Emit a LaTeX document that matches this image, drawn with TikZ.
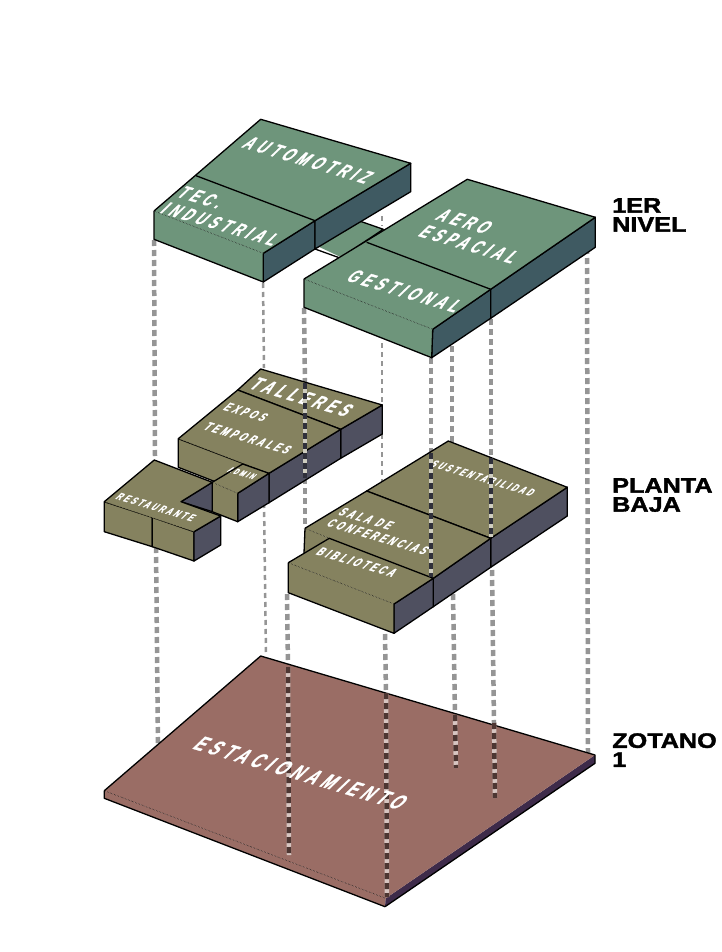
\documentclass[tikz,border=0pt]{standalone}
\usepackage{fontspec}
\setmainfont{Liberation Sans}
\newfontfamily\planfont[LetterSpace=35,BoldFeatures={FakeBold=1.2}]{Liberation Sans}
\newfontfamily\levelfont[BoldFeatures={FakeBold=1.6}]{Liberation Sans}

\definecolor{verde}{HTML}{6E957B}
\definecolor{verdeosc}{HTML}{3F5A62}
\definecolor{oliva}{HTML}{85825F}
\definecolor{olivaosc}{HTML}{4F5060}
\definecolor{rojizo}{HTML}{9A6D65}
\definecolor{rojizoosc}{HTML}{3E2B4A}
\definecolor{guia}{HTML}{959595}

\begin{document}
\begin{tikzpicture}[
    x=1pt,
    y=-1pt,
    line join=round,
    faceedge/.style={
        draw=black,
        line width=1.3pt
    },
    top edge/.style={
        draw=black,
        line width=0.5pt,
        densely dotted
    },
    guide/.style={
        draw=guia,
        line width=4.5pt,
        dash pattern=on 6pt off 4pt
    },
    guide thin/.style={
        draw=guia,
        line width=2.5pt,
        dash pattern=on 5pt off 4pt
    },
    guide over/.style 2 args={
        draw=#1,
        line width=4.5pt,
        dash pattern=on 6pt off 4pt,
        preaction={draw=#2, line width=4.5pt, solid}
    },
    plan label/.style={
        text=white,
        font=\planfont\bfseries\fontsize{#1}{#1}\selectfont,
        xslant=0.8,
        rotate=-13.5,
        inner sep=0pt,
        align=left
    },
    level label/.style={
        text=black,
        font=\levelfont\fontsize{21}{19}\bfseries\selectfont,
        xscale=1.2,
        anchor=north west,
        inner sep=0pt,
        align=left
    }
]

\useasboundingbox[fill=white] (0,0) rectangle (722,952);

% Guias detras de los bloques
\draw[guide] (154,240) -- (155,456);
\draw[guide] (156,547) -- (158,748);
\draw[guide thin] (263,283) -- (264,368);
\draw[guide thin] (264,503) -- (266,655);
\draw[guide] (304,308) -- (305,383);
\draw[guide] (305,478) -- (305,528);
\draw[guide] (287,594) -- (288,667);
\draw[guide thin] (382,216) -- (382,226);
\draw[guide thin] (382,343) -- (382,404);
\draw[guide thin] (382,434) -- (382,482);
\draw[guide] (431,358) -- (431,453);
\draw[guide] (385,634) -- (386,693);
\draw[guide] (452,346) -- (452,453);
\draw[guide] (453,594) -- (455,715);
\draw[guide] (491,319) -- (491,458);
\draw[guide] (492,570) -- (494,723);
\draw[guide] (587,248) -- (588,755);

% Zotano
\fill[rojizo] (104.3,790.7) -- (385.7,898.3) -- (385,906.7) -- (104.3,798.3) -- cycle;
\draw[faceedge] (104.3,790.7) -- (104.3,798.3) -- (385,906.7);
\fill[rojizoosc] (385.7,898.3) -- (595,755) -- (595,763.3) -- (385,906.7) -- cycle;
\fill[rojizo] (260.7,656) -- (595,755) -- (385.7,898.3) -- (104.3,790.7) -- cycle;
\draw[faceedge] (104.3,790.7) -- (260.7,656) -- (595,755) -- (595,763.3) -- (385,906.7);
\draw[top edge] (104.3,790.7) -- (385.7,898.3);

% Planta baja, talleres
\draw[faceedge, fill=olivaosc] (340.7,429.3) -- (382.3,405) -- (382.3,434) -- (340.7,458.3) -- cycle;
\draw[faceedge, fill=olivaosc] (269,473.3) -- (340.7,429.3) -- (340.7,458.3) -- (269,502.7) -- cycle;
\draw[faceedge, fill=oliva] (178.3,438.7) -- (178.3,467.3) -- (269,502.7) -- (269,473.3) -- cycle;
\draw[faceedge, fill=oliva] (260.7,369) -- (382.3,405) -- (340.7,429.3) -- (237.7,390) -- cycle;
\fill[oliva] (237.7,390) -- (340.7,429.3) -- (269,473.3) -- (178.3,438.7) -- cycle;
\draw[faceedge] (178.3,438.7) -- (237.7,390) -- (340.7,429.3) -- (269,473.3);
\draw[top edge] (178.3,438.7) -- (269,473.3);
\node[plan label=16] (talleres) at (302,397) {TALLERES};
\node[plan label=10.5] (expos) at (246,412) {EXPOS};
\node[plan label=10.5] (temporales) at (248,438) {TEMPORALES};

% Admin
\draw[faceedge, fill=olivaosc] (237.7,493.3) -- (269,473.3) -- (269,502.7) -- (237.7,521.7) -- cycle;
\fill[oliva] (212.3,482.3) -- (237.7,493.3) -- (237.7,521.7) -- (212.3,511.7) -- cycle;
\draw[faceedge] (212.3,482.3) -- (212.3,511.7) -- (237.7,521.7) -- (237.7,493.3);
\fill[oliva] (242.7,464) -- (269,473.3) -- (237.7,493.3) -- (212.3,482.3) -- cycle;
\node[plan label=7] (admin) at (242,473) {ADMIN};
\draw[faceedge] (212.3,482.3) -- (242.7,464) -- (269,473.3) -- (237.7,493.3);
\draw[top edge] (212.3,482.3) -- (237.7,493.3);

% Restaurante
\draw[faceedge, fill=olivaosc] (181,501.7) -- (212.3,482.3) -- (212.3,511.7) -- cycle;
\draw[faceedge, fill=oliva] (104.3,501.7) -- (104.3,531.7) -- (152.3,546.7) -- (152.3,517.3) -- cycle;
\draw[faceedge, fill=oliva] (152.3,517.3) -- (152.3,546.7) -- (194,561) -- (194,531.7) -- cycle;
\draw[faceedge, fill=olivaosc] (194,531.7) -- (220.7,516) -- (220.7,545) -- (194,561) -- cycle;
\fill[oliva] (154.3,460) -- (212.3,482.3) -- (181,501.7) -- (220.7,516) -- (194,531.7) -- (104.3,501.7) -- cycle;
\draw[faceedge] (104.3,501.7) -- (154.3,460) -- (212.3,482.3) -- (181,501.7) -- (220.7,516) -- (194,531.7);
\draw[top edge] (104.3,501.7) -- (194,531.7);
\node[plan label=8.8] (restaurante) at (156,507) {RESTAURANTE};

% Planta baja, bloque derecho
\draw[faceedge, fill=olivaosc] (490.7,538.3) -- (567.3,487.3) -- (567.3,516) -- (490.7,567.3) -- cycle;
\draw[faceedge, fill=olivaosc] (433.3,578.3) -- (490.7,538.3) -- (490.7,567.3) -- (433.3,606.7) -- cycle;
\fill[oliva] (305,528.3) -- (329.3,538.3) -- (304,553) -- cycle;
\draw[faceedge] (305,528.3) -- (304,553);
\draw[faceedge, fill=oliva] (448.3,441) -- (567.3,487.3) -- (490.7,538.3) -- (366.7,491) -- cycle;
\fill[oliva] (366.7,491) -- (490.7,538.3) -- (433.3,578.3) -- (329.3,538.3) -- (305,528.3) -- cycle;
\draw[faceedge] (305,528.3) -- (366.7,491) -- (490.7,538.3) -- (433.3,578.3);
\draw[top edge] (305,528.3) -- (329.3,538.3);
\node[plan label=9] (sustentabilidad) at (483,478) {SUSTENTABILIDAD};
\node[plan label=10.5] (sala) at (384,531) {SALA DE\\[1pt]CONFERENCIAS};

% Biblioteca
\draw[faceedge, fill=olivaosc] (394,604) -- (433.3,578.3) -- (433.3,606.7) -- (394,633.3) -- cycle;
\fill[oliva] (288.3,562.7) -- (394,604) -- (394,633.3) -- (288.3,592.7) -- cycle;
\draw[faceedge] (288.3,562.7) -- (288.3,592.7) -- (394,633.3) -- (394,604);
\fill[oliva] (329.3,538.3) -- (433.3,578.3) -- (394,604) -- (288.3,562.7) -- cycle;
\draw[faceedge] (288.3,562.7) -- (329.3,538.3) -- (433.3,578.3) -- (394,604);
\draw[top edge] (288.3,562.7) -- (394,604);
\node[plan label=10.5] (biblioteca) at (357,562) {BIBLIOTECA};

% Primer nivel, pieza central
\fill[verde] (315,245) -- (356.7,220) -- (383.3,229.3) -- (340,256.7) -- cycle;
\draw[faceedge] (315,249) -- (340,258) -- (383.3,229.3) -- (356.7,220) -- (315,245);

% Primer nivel, bloque izquierdo
\draw[faceedge, fill=verdeosc] (263.3,253.3) -- (315,220.7) -- (315,249) -- (263.3,282) -- cycle;
\draw[faceedge, fill=verdeosc] (315,220.7) -- (410.7,163.3) -- (410.7,191.7) -- (315,249) -- cycle;
\fill[verde] (154,211) -- (263.3,253.3) -- (263.3,282) -- (154,239.3) -- cycle;
\draw[faceedge] (154,211) -- (154,239.3) -- (263.3,282) -- (263.3,253.3);
\fill[verde] (260.7,119.3) -- (410.7,163.3) -- (315,220.7) -- (263.3,253.3) -- (154,211) -- cycle;
\draw[faceedge] (154,211) -- (260.7,119.3) -- (410.7,163.3) -- (315,220.7) -- (263.3,253.3);
\draw[faceedge] (196,175.7) -- (315,220.7);
\draw[top edge] (154,211) -- (263.3,253.3);
\node[plan label=16] (automotriz) at (308,160) {AUTOMOTRIZ};
\node[plan label=15.5] (tec) at (229,216) {TEC.\\[1pt]INDUSTRIAL};

% Primer nivel, bloque derecho
\draw[faceedge, fill=verdeosc] (432.7,329.3) -- (490.7,289.3) -- (490.7,318.3) -- (431.7,357.7) -- cycle;
\draw[faceedge, fill=verdeosc] (490.7,289.3) -- (595.3,217.3) -- (595.3,247.3) -- (490.7,318.3) -- cycle;
\fill[verde] (304,279) -- (432.7,329.3) -- (431.7,357.7) -- (304,307.3) -- cycle;
\draw[faceedge] (304,279) -- (304,307.3) -- (431.7,357.7) -- (432.7,329.3);
\fill[verde] (467.3,179.3) -- (595.3,217.3) -- (490.7,289.3) -- (432.7,329.3) -- (304,279) -- cycle;
\draw[faceedge] (304,279) -- (467.3,179.3) -- (595.3,217.3) -- (490.7,289.3) -- (432.7,329.3);
\draw[faceedge] (366.7,242.3) -- (490.7,289.3);
\draw[top edge] (304,279) -- (432.7,329.3);
\node[plan label=16] (aero) at (478,236) {AERO\\[1pt]ESPACIAL};
\node[plan label=16] (gestional) at (405,291) {GESTIONAL};

% Guias sobre los bloques
\draw[guide over={olivaosc!60!black}{oliva!40!white}] (305,383) -- (305,478);
\draw[guide over={olivaosc!60!black}{oliva!40!white}] (431,453) -- (431,577);
\draw[guide over={olivaosc!60!black}{oliva!40!white}] (491,458) -- (491,537);
\draw[guide over={rojizo!50!black}{rojizo!40!white}] (288,667) -- (289,855);
\draw[guide over={rojizo!50!black}{rojizo!40!white}] (386,693) -- (387,897);
\draw[guide over={rojizo!50!black}{rojizo!40!white}] (455,715) -- (456,768);
\draw[guide over={rojizo!50!black}{rojizo!40!white}] (494,723) -- (495,798);
\node[plan label=18] (estacionamiento) at (301,773) {ESTACIONAMIENTO};

% Niveles
\node[level label] (nivel1) at (612,198) {1ER\\NIVEL};
\node[level label] (planta) at (612,478) {PLANTA\\BAJA};
\node[level label] (zotano) at (612,733) {ZOTANO\\1};

\end{tikzpicture}
\end{document}
